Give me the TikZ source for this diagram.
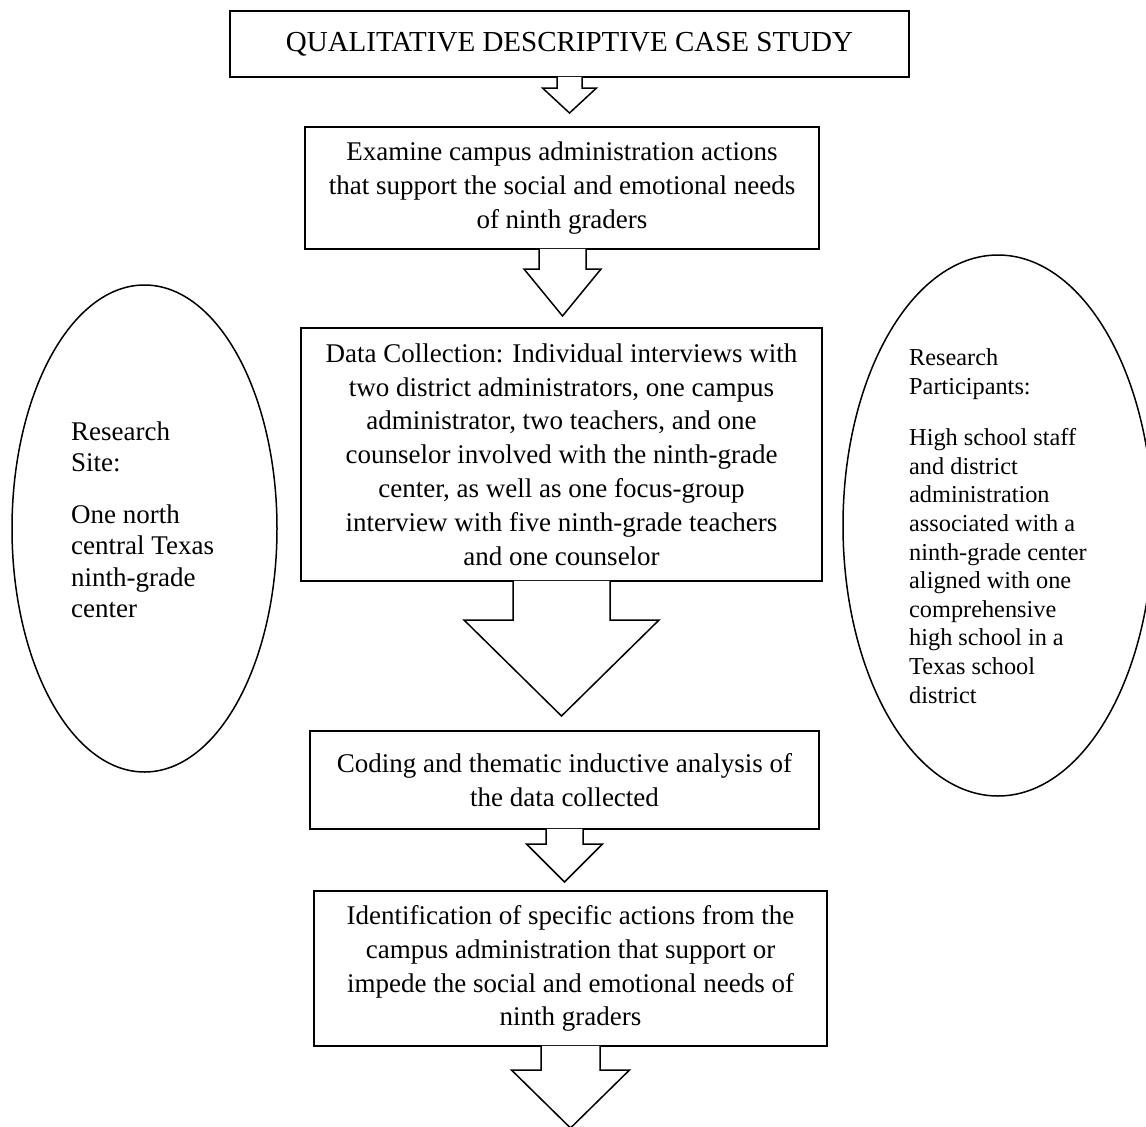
\documentclass[tikz,border=0pt]{standalone}
\usepackage{fontspec}
\setmainfont{Liberation Serif}
\usetikzlibrary{shapes.geometric,calc}
\newcommand\flowarrow[6]{% #1 source node, #2 x centre, #3 shaft half width, #4 head half width, #5 shaft bottom y, #6 tip y
  \filldraw[arrowbody] let \p1=(#1.south) in
    ({(#2-#3)*1pt},{\y1+1pt}) -- ({(#2-#3)*1pt},{-#5pt}) -- ({(#2-#4)*1pt},{-#5pt})
    -- ({#2pt},{-#6pt}) -- ({(#2+#4)*1pt},{-#5pt}) -- ({(#2+#3)*1pt},{-#5pt})
    -- ({(#2+#3)*1pt},{\y1+1pt});}
\begin{document}
\begin{tikzpicture}[x=1pt,y=1pt,
  box/.style={draw, line width=1.5pt, inner sep=0pt, align=center,
    font=\fontsize{27}{33.8}\selectfont},
  oval/.style={draw, ellipse, line width=1.5pt, inner sep=0pt},
  lbl/.style={inner sep=0pt, align=left, anchor=west,
    font=\fontsize{27}{31.5}\selectfont},
  lblsmall/.style={inner sep=0pt, align=left, anchor=west,
    font=\fontsize{24.3}{28.6}\selectfont},
  arrowbody/.style={draw, fill=white, line width=1.5pt, line join=miter}]
\useasboundingbox (0,0) rectangle (1146,-1127);

% boxes
\node[box, minimum width=679, minimum height=66, font=\fontsize{29}{34}\selectfont]
  (b1) at (569.5,-44) {QUALITATIVE DESCRIPTIVE CASE STUDY};
\node[box, minimum width=514, minimum height=122] (b2) at (562,-188)
  {Examine campus administration actions\\that support the social and emotional needs\\of ninth graders};
\node[box, minimum width=521, minimum height=253] (b3) at (561.5,-454.5)
  {Data Collection: Individual interviews with\\two district administrators, one campus\\administrator, two teachers, and one\\counselor involved with the ninth-grade\\center, as well as one focus-group\\interview with five ninth-grade teachers\\and one counselor};
\node[box, minimum width=509, minimum height=98] (b4) at (564.5,-780)
  {Coding and thematic inductive analysis of\\the data collected};
\node[box, minimum width=513, minimum height=155] (b5) at (570.5,-968.5)
  {Identification of specific actions from the\\campus administration that support or\\impede the social and emotional needs of\\ninth graders};

% block arrows
\flowarrow{b1}{569.5}{12.5}{27}{88}{113}
\flowarrow{b2}{562.5}{23.5}{38.5}{269}{316}
\flowarrow{b3}{561.5}{48.5}{97.5}{620}{716}
\flowarrow{b4}{564.5}{18.5}{38}{844}{882}
\flowarrow{b5}{570.5}{29.5}{59}{1070}{1128}

% ellipses
\node[oval, minimum width=265, minimum height=487] (site) at (144.5,-528.5) {};
\node[oval, minimum width=310, minimum height=541] (part) at (998,-525.5) {};

\node[lbl] (siteA) at (71,-447) {Research\\Site:};
\node[lbl] (siteB) at (71,-561.5) {One north\\central Texas\\ninth-grade\\center};
\node[lblsmall] (partA) at (909,-374) {Research\\Participants:};
\node[lblsmall] (partB) at (909,-566) {High school staff\\and district\\administration\\associated with a\\ninth-grade center\\aligned with one\\comprehensive\\high school in a\\Texas school\\district};
\end{tikzpicture}
\end{document}
